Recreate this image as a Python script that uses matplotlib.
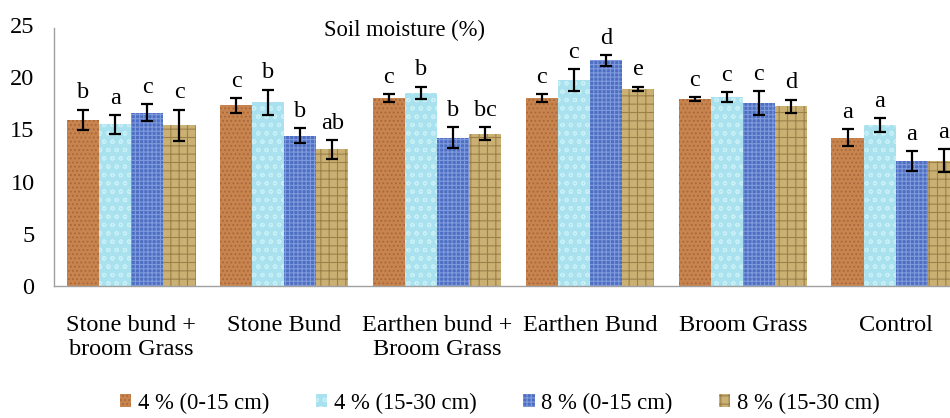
import matplotlib
matplotlib.use("Agg")
import matplotlib.pyplot as plt
import numpy as np

categories = ["Stone bund +\nbroom Grass", "Stone Bund", "Earthen bund +\nBroom Grass",
              "Earthen Bund", "Broom Grass", "Control"]
series_names = ["4 % (0-15 cm)", "4 % (15-30 cm)", "8 % (0-15 cm)", "8 % (15-30 cm)"]

s4_0_15 = [15.9, 17.3, 18.0, 18.0, 17.9, 14.2]
s4_15_30 = [15.5, 17.6, 18.5, 19.7, 18.1, 15.4]
s8_0_15 = [16.6, 14.4, 14.2, 21.6, 17.5, 12.0]
s8_15_30 = [15.4, 13.1, 14.6, 18.9, 17.2, 12.0]

e4_0_15 = [1.0, 0.7, 0.4, 0.35, 0.2, 0.8]
e4_15_30 = [0.9, 1.2, 0.6, 1.05, 0.45, 0.65]
e8_0_15 = [0.8, 0.7, 1.0, 0.5, 1.15, 0.95]
e8_15_30 = [1.5, 0.9, 0.65, 0.2, 0.65, 1.1]

l4_0_15 = ["b", "c", "c", "c", "c", "a"]
l4_15_30 = ["a", "b", "b", "c", "c", "a"]
l8_0_15 = ["c", "b", "b", "d", "c", "a"]
l8_15_30 = ["c", "ab", "bc", "e", "d", "a"]

yticks = [0, 5, 10, 15, 20, 25]

values = [s4_0_15, s4_15_30, s8_0_15, s8_15_30]
errors = [e4_0_15, e4_15_30, e8_0_15, e8_15_30]
letters = [l4_0_15, l4_15_30, l8_0_15, l8_15_30]

colors = ["#C8844E", "#A9E2EE", "#4E6EC2", "#CBB074"]
hatch_colors = ["#A9663A", "#C9F0F6", "#7F9BDD", "#9C8048"]
hatches = ["....", "oo", "++++", "++"]

plt.rcParams["font.family"] = ["Liberation Serif", "DejaVu Serif"]
plt.rcParams["hatch.linewidth"] = 0.8

FS = 17.5
FS_SMALL = 16.3

fig = plt.figure(figsize=(9.5, 4.18), dpi=100)
ax = fig.add_axes([54 / 950, 1 - 286 / 418, (973 - 54) / 950, (286 - 25) / 418])

x = np.arange(len(categories))
w = 0.21
offsets = (np.arange(4) - 1.5) * w

bars_handles = []
for i in range(4):
    b = ax.bar(x + offsets[i], values[i], width=w, color=colors[i],
               edgecolor=hatch_colors[i], linewidth=0, hatch=hatches[i],
               label=series_names[i], zorder=2)
    bars_handles.append(b)
    ax.errorbar(x + offsets[i], values[i], yerr=errors[i], fmt="none",
                ecolor="black", elinewidth=1.6, capsize=4, capthick=1.6, zorder=3)
    for j in range(len(categories)):
        ax.text(x[j] + offsets[i], values[i][j] + errors[i][j] + 0.6, letters[i][j],
                ha="center", va="bottom", fontsize=FS, zorder=4)

ax.set_xlim(-0.506, len(categories) - 1 + 0.506)
ax.set_ylim(0, 25)
ax.set_yticks(yticks)
ax.set_xticks(x)
ax.set_xticklabels(categories, fontsize=FS, linespacing=1.18)
ax.tick_params(axis="y", labelsize=FS, length=0, pad=14)
ax.tick_params(axis="x", length=0, pad=21)
for sp in ["top", "right"]:
    ax.spines[sp].set_visible(False)
for sp in ["left", "bottom"]:
    ax.spines[sp].set_color("#A0A0A0")
    ax.spines[sp].set_linewidth(1.0)
ax.spines["left"].set_bounds(0, 24.7)

ax.text(x[0] - 0.506 + (405 - 54) / 153, 24.45, "Soil moisture (%)", fontsize=FS_SMALL,
        ha="center", va="center")

fig.legend(handles=bars_handles, labels=series_names, loc="center",
           bbox_to_anchor=(500 / 950, 1 - 403 / 418), ncol=4, frameon=False,
           fontsize=FS_SMALL, handlelength=0.5, handleheight=0.5, handletextpad=0.3,
           columnspacing=2.05)

fig.savefig("out.png", dpi=100)
